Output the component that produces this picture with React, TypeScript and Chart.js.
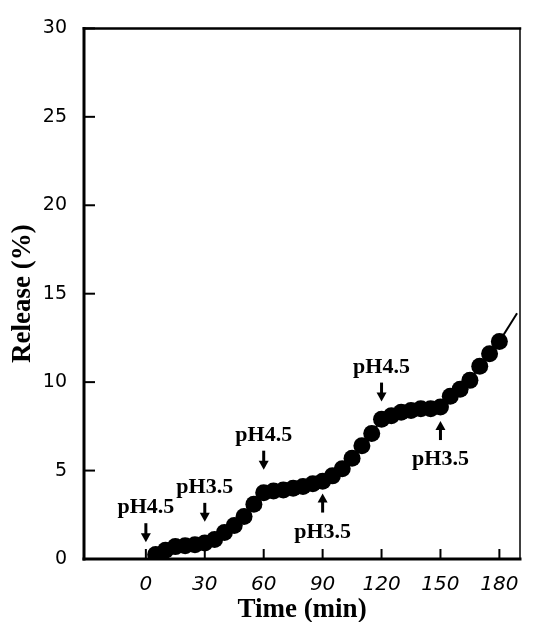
import React, { useEffect, useRef } from 'react';
import { Chart, registerables } from 'chart.js';

Chart.register(...registerables);

// Release profile sampled every 5 min
const times = [5, 10, 15, 20, 25, 30, 35, 40, 45, 50, 55, 60, 65, 70, 75, 80, 85, 90,
  95, 100, 105, 110, 115, 120, 125, 130, 135, 140, 145, 150, 155, 160, 165, 170, 175, 180];
const release = [0.25, 0.5, 0.7, 0.75, 0.8, 0.9, 1.1, 1.5, 1.9, 2.4, 3.1, 3.75, 3.85, 3.9,
  4.0, 4.1, 4.25, 4.4, 4.7, 5.1, 5.7, 6.4, 7.1, 7.9, 8.1, 8.3, 8.4, 8.5, 8.5, 8.6, 9.2, 9.6,
  10.1, 10.9, 11.6, 12.3];

// Trend line continues past the last sample
const trendEndTime = 189;
const trendEndRelease = 13.9;

const xTickValues = [0, 30, 60, 90, 120, 150, 180];
const yTickValues = [0, 5, 10, 15, 20, 25, 30];

// pH switch markers
const switchTimes = [0, 30, 60, 90, 120, 150];
const switchLabels = ['pH4.5', 'pH3.5', 'pH4.5', 'pH3.5', 'pH4.5', 'pH3.5'];
const arrowTipRelease = [0.95, 2.1, 5.05, 3.7, 8.9, 7.8];
const arrowDirections = ['down', 'down', 'down', 'up', 'down', 'up'];

const SERIF = '"Liberation Serif", "Times New Roman", serif';
const SANS = '"DejaVu Sans", sans-serif';

const framePlugin = {
  id: 'frameAndMarkers',
  afterDraw(chart: any) {
    const { ctx, chartArea: a, scales } = chart;
    const x = scales.x;
    const y = scales.y;
    const seg = (x1: number, y1: number, x2: number, y2: number) => {
      ctx.beginPath();
      ctx.moveTo(x1, y1);
      ctx.lineTo(x2, y2);
      ctx.stroke();
    };
    ctx.save();
    ctx.strokeStyle = '#000';
    ctx.fillStyle = '#000';
    ctx.lineCap = 'butt';

    // inward tick marks
    ctx.lineWidth = 2;
    xTickValues.forEach((v) => {
      const px = x.getPixelForValue(v);
      seg(px, a.bottom, px, a.bottom - 10);
    });
    yTickValues.forEach((v) => {
      const py = y.getPixelForValue(v);
      seg(a.left, py, a.left + 11, py);
    });

    // plot frame
    ctx.lineCap = 'square';
    ctx.lineWidth = 3;
    seg(a.left, a.top, a.left, a.bottom);
    seg(a.left, a.bottom, a.right, a.bottom);
    ctx.lineWidth = 2.5;
    seg(a.left, a.top, a.right, a.top);
    ctx.lineWidth = 1.5;
    seg(a.right, a.top, a.right, a.bottom);

    // pH switch arrows and labels
    ctx.font = `bold 22px ${SERIF}`;
    ctx.textAlign = 'center';
    ctx.textBaseline = 'alphabetic';
    ctx.lineCap = 'butt';
    switchTimes.forEach((t, i) => {
      const px = x.getPixelForValue(t);
      const tip = y.getPixelForValue(arrowTipRelease[i]);
      const dir = arrowDirections[i] === 'down' ? 1 : -1;
      const tail = tip - dir * 19;
      ctx.lineWidth = 3;
      seg(px, tail, px, tip - dir * 7);
      ctx.beginPath();
      ctx.moveTo(px, tip);
      ctx.lineTo(px - 5, tip - dir * 9);
      ctx.lineTo(px + 5, tip - dir * 9);
      ctx.closePath();
      ctx.fill();
      const baseline = dir === 1 ? tail - 10 : tail + 25;
      ctx.fillText(switchLabels[i], px, baseline);
    });
    ctx.restore();
  },
};

export default function App() {
  const canvasRef = useRef<HTMLCanvasElement | null>(null);

  useEffect(() => {
    document.body.style.margin = '0';
    const canvas = canvasRef.current;
    if (!canvas) return;
    const points = times.map((t, i) => ({ x: t, y: release[i] }));
    const last = points[points.length - 1];
    const chart = new Chart(canvas, {
      type: 'scatter',
      data: {
        datasets: [
          {
            data: [last, { x: trendEndTime, y: trendEndRelease }],
            showLine: true,
            borderColor: '#000',
            borderWidth: 2,
            pointRadius: 0,
          },
          {
            data: points,
            showLine: true,
            borderColor: '#000',
            borderWidth: 2,
            backgroundColor: '#000',
            pointBackgroundColor: '#000',
            pointBorderColor: '#000',
            pointRadius: 8.5,
            pointBorderWidth: 0,
          },
        ],
      },
      options: {
        responsive: false,
        animation: false,
        events: [],
        layout: { padding: { top: 22, right: 16, left: 0, bottom: 0 } },
        plugins: {
          legend: { display: false },
          tooltip: { enabled: false },
        },
        scales: {
          x: {
            type: 'linear',
            min: -31.5,
            max: 190.5,
            afterBuildTicks: (s: any) => {
              s.ticks = xTickValues.map((v) => ({ value: v }));
            },
            afterFit: (s: any) => {
              s.height = 63;
            },
            grid: { display: false, drawTicks: false },
            border: { display: false },
            ticks: {
              color: '#000',
              font: { family: SANS, size: 20, style: 'italic' },
              padding: 14,
              maxRotation: 0,
              autoSkip: false,
            },
            title: {
              display: true,
              text: 'Time (min)',
              color: '#000',
              font: { family: SERIF, size: 27, weight: 'bold', lineHeight: 1 },
              padding: { top: 0, bottom: -2 },
            },
          },
          y: {
            type: 'linear',
            min: 0,
            max: 30,
            afterBuildTicks: (s: any) => {
              s.ticks = yTickValues.map((v) => ({ value: v }));
            },
            afterFit: (s: any) => {
              s.width = 84;
            },
            grid: { display: false, drawTicks: false },
            border: { display: false },
            ticks: {
              color: '#000',
              font: { family: SANS, size: 19 },
              padding: 17,
            },
            title: {
              display: true,
              text: 'Release (%)',
              color: '#000',
              font: { family: SERIF, size: 27, weight: 'bold', lineHeight: 1 },
              padding: { top: 10, bottom: 0 },
            },
          },
        },
      },
      plugins: [framePlugin],
    });
    return () => chart.destroy();
  }, []);

  return (
    <div style={{ width: 536, height: 622, background: '#fff' }}>
      <canvas ref={canvasRef} width={536} height={622} />
    </div>
  );
}
